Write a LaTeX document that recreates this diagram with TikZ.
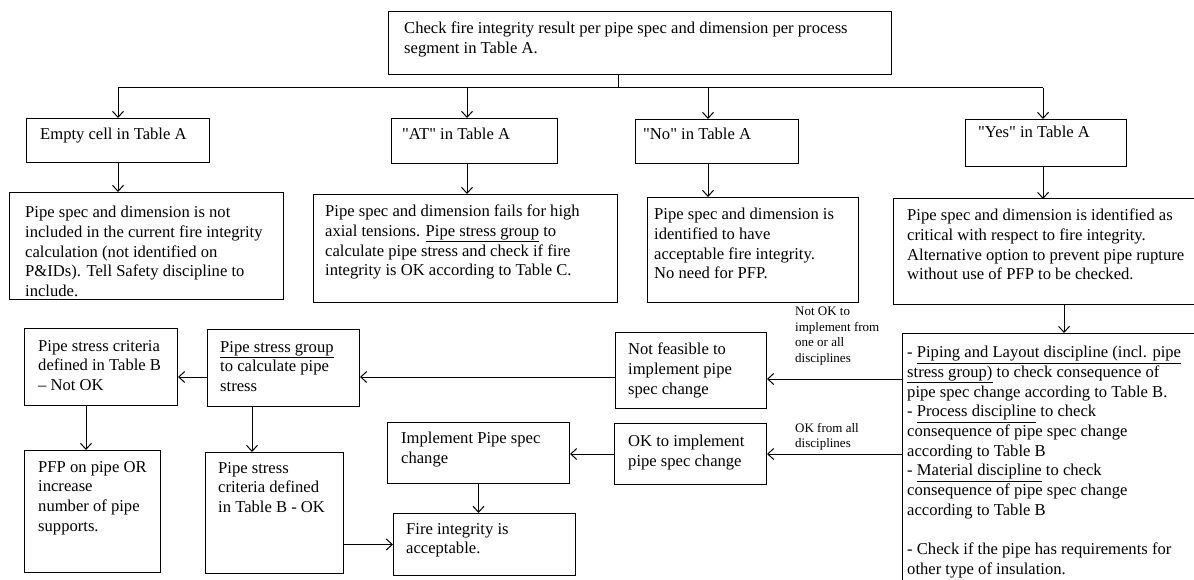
\documentclass[tikz,border=0pt]{standalone}
\usepackage{fontspec}
\setmainfont{Liberation Serif}
\usetikzlibrary{arrows.meta}
\newcommand\fmain{\fontsize{16.6}{19.7}\selectfont}
\newcommand\fsmall{\fontsize{13}{15.5}\selectfont}
\newcommand\qq{\textquotedbl}
\begin{document}
\begin{tikzpicture}[x=1pt,y=-1pt,
  box/.style={draw, line width=1pt, inner sep=0pt, anchor=north west},
  openbox/.style={inner sep=0pt, anchor=north west},
  txt/.style={anchor=north west, inner sep=0pt, align=left, font=\fmain},
  lbl/.style={anchor=north west, inner sep=0pt, align=left, font=\fsmall},
  arr/.style={line width=1pt, -{Straight Barb[length=6pt,width=11pt,line width=1pt]}},
  ln/.style={line width=1pt}]
\fill[white] (0,0) rectangle (1194,580);
\useasboundingbox (0,0) rectangle (1194,580);

% boxes
\node[box, minimum width=503pt, minimum height=63pt] (top) at (388,11) {};
\node[txt] (topt) at ([shift={(16,11)}]top.north west) {Check fire integrity result per pipe spec and dimension per process\\segment in Table A.};

\node[box, minimum width=183pt, minimum height=44pt] (empty) at (26,118) {};
\node[txt] (emptyt) at ([shift={(14,10)}]empty.north west) {Empty cell in Table A};

\node[box, minimum width=166pt, minimum height=45pt] (at) at (391,118) {};
\node[txt] (att) at ([shift={(11,10)}]at.north west) {\qq AT\qq{} in Table A};

\node[box, minimum width=163pt, minimum height=44pt] (no) at (635,119) {};
\node[txt] (not) at ([shift={(8,9)}]no.north west) {\qq No\qq{} in Table A};

\node[box, minimum width=161pt, minimum height=47pt] (yes) at (965,119) {};
\node[txt] (yest) at ([shift={(13,7)}]yes.north west) {\qq Yes\qq{} in Table A};

\node[box, minimum width=274pt, minimum height=107pt] (emptyres) at (9,192) {};
\node[txt] (emptyrest) at ([shift={(16,14)}]emptyres.north west) {Pipe spec and dimension is not\\included in the current fire integrity\\calculation (not identified on\\P\&IDs). Tell Safety discipline to\\include.};

\node[box, minimum width=304pt, minimum height=108pt] (atres) at (313,194) {};
\node[txt] (atrest) at ([shift={(12,11)}]atres.north west) {Pipe spec and dimension fails for high\\axial tensions. \underline{Pipe stress group} to\\calculate pipe stress and check if fire\\integrity is OK according to Table C.};

\node[box, minimum width=211pt, minimum height=105pt] (nores) at (647,197) {};
\node[txt] (norest) at ([shift={(7,11)}]nores.north west) {Pipe spec and dimension is\\identified to have\\acceptable fire integrity.\\No need for PFP.};

\node[openbox, minimum width=301pt, minimum height=105pt] (crit) at (893,199) {};
\draw[ln] (crit.north east) -- (crit.north west) -- (crit.south west) -- (crit.south east);
\node[txt] (critt) at ([shift={(14,10)}]crit.north west) {Pipe spec and dimension is identified as\\critical with respect to fire integrity.\\Alternative option to prevent pipe rupture\\without use of PFP to be checked.};

\node[box, minimum width=153pt, minimum height=77pt] (notok) at (24,328) {};
\node[txt] (notokt) at ([shift={(14,12)}]notok.north west) {Pipe stress criteria\\defined in Table B\\– Not OK};

\node[box, minimum width=152pt, minimum height=77pt] (group) at (207,329) {};
\node[txt] (groupt) at ([shift={(13,12)}]group.north west) {\underline{Pipe stress group}\\to calculate pipe\\stress};

\node[box, minimum width=151pt, minimum height=76pt] (notfeas) at (615,332) {};
\node[txt] (notfeast) at ([shift={(13,11)}]notfeas.north west) {Not feasible to\\implement pipe\\spec change};

\node[openbox, minimum width=292pt, minimum height=247pt] (disc) at (902,333) {};
\draw[ln] (disc.north east) -- (disc.north west) -- (disc.south west);
\node[txt] (disct) at ([shift={(5,13)}]disc.north west) {- \underline{Piping and Layout discipline (incl. pipe}\\\underline{stress group)} to check consequence of\\pipe spec change according to Table B.\\- \underline{Process discipline} to check\\consequence of pipe spec change\\according to Table B\\- \underline{Material discipline} to check\\consequence of pipe spec change\\according to Table B\\[19.7pt]- Check if the pipe has requirements for\\other type of insulation.};

\node[box, minimum width=152pt, minimum height=61pt] (ok) at (614,423) {};
\node[txt] (okt) at ([shift={(14,12)}]ok.north west) {OK to implement\\pipe spec change};

\node[box, minimum width=182pt, minimum height=61pt] (impl) at (387,422) {};
\node[txt] (implt) at ([shift={(14,10)}]impl.north west) {Implement Pipe spec\\change};

\node[box, minimum width=182pt, minimum height=62pt] (fire) at (393,513) {};
\node[txt] (firet) at ([shift={(13,10)}]fire.north west) {Fire integrity is\\acceptable.};

\node[box, minimum width=136pt, minimum height=122pt] (pfp) at (24,450) {};
\node[txt] (pfpt) at ([shift={(14,11)}]pfp.north west) {PFP on pipe OR\\increase\\number of pipe\\supports.};

\node[box, minimum width=138pt, minimum height=121pt] (critok) at (205,452) {};
\node[txt] (critokt) at ([shift={(13,10)}]critok.north west) {Pipe stress\\criteria defined\\in Table B - OK};

% labels
\node[lbl] (lab1) at (795,307) {Not OK to\\implement from\\one or all\\disciplines};
\node[lbl] (lab2) at (795,423) {OK from all\\disciplines};

% connectors
\coordinate (bj) at (618,88);
\coordinate (a1) at (118,88);
\coordinate (a2) at (467,88);
\coordinate (a3) at (708,88);
\coordinate (a4) at (1043,88);
\draw[ln] (top.south -| bj) -- (bj);
\draw[ln] (a1) -- (a4);
\draw[arr] (a1) -- (a1 |- empty.north);
\draw[arr] (a2) -- (a2 |- at.north);
\draw[arr] (a3) -- (a3 |- no.north);
\draw[arr] (a4) -- (a4 |- yes.north);
\draw[arr] (empty.south -| a1) -- (a1 |- emptyres.north);
\draw[arr] (at.south -| a2) -- (a2 |- atres.north);
\draw[arr] (no.south -| a3) -- (a3 |- nores.north);
\draw[arr] (yes.south -| a4) -- (a4 |- crit.north);
\coordinate (a5) at (1064,0);
\draw[arr] (crit.south -| a5) -- (a5 |- disc.north);
\coordinate (r1) at (0,379);
\draw[arr] (disc.west |- r1) -- (notfeas.east |- r1);
\draw[arr] (disc.west |- ok) -- (ok.east);
\coordinate (r2) at (0,377);
\draw[arr] (notfeas.west |- r2) -- (group.east |- r2);
\draw[arr] (group.west |- r2) -- (notok.east |- r2);
\coordinate (c1) at (86,0);
\draw[arr] (notok.south -| c1) -- (c1 |- pfp.north);
\coordinate (c2) at (252,0);
\draw[arr] (group.south -| c2) -- (c2 |- critok.north);
\draw[arr] (critok.east |- fire) -- (fire.west);
\draw[arr] (ok.west) -- (ok.west -| impl.east);
\draw[arr] (impl.south) -- (impl.south |- fire.north);
\end{tikzpicture}
\end{document}
